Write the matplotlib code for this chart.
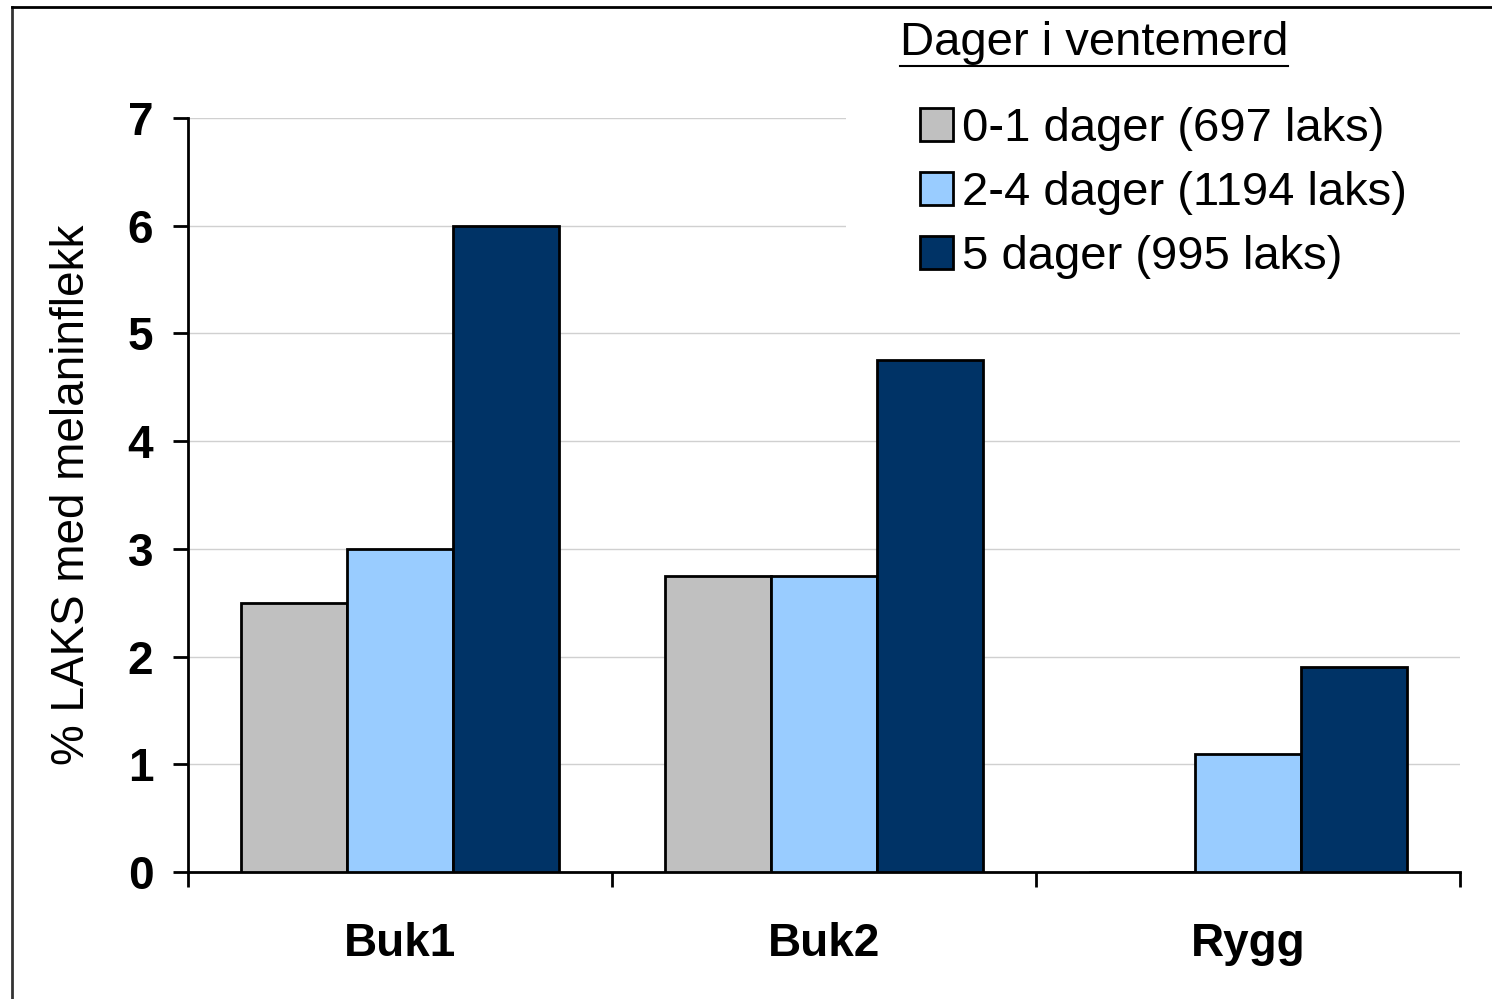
import numpy as np
import matplotlib.pyplot as plt
from matplotlib.patches import Patch, Rectangle
from matplotlib.lines import Line2D

# data
categories = ['Buk1', 'Buk2', 'Rygg']
series_labels = ['0-1 dager (697 laks)', '2-4 dager (1194 laks)', '5 dager (995 laks)']
values_01 = [2.5, 2.75, 0.0]
values_24 = [3.0, 2.75, 1.1]
values_5 = [6.0, 4.75, 1.9]
colors = ['#c0c0c0', '#99ccff', '#003366']

plt.rcParams['font.family'] = ['Liberation Sans', 'DejaVu Sans']

W, H = 1492, 999
fig = plt.figure(figsize=(W / 100, H / 100), dpi=100)
ax = fig.add_axes([188 / W, 1 - 872 / H, (1460 - 188) / W, (872 - 118) / H])

x = np.arange(len(categories)) + 0.5
width = 0.25
for i, vals in enumerate([values_01, values_24, values_5]):
    ax.bar(x + (i - 1) * width, vals, width, color=colors[i],
           edgecolor='black', linewidth=2, zorder=3)

ax.set_xlim(0, len(categories))
ax.set_ylim(0, 7)
ax.set_yticks(range(0, 8))
ax.yaxis.grid(True, color='#d0d0d0', linewidth=1, zorder=0)
ax.set_axisbelow(True)

# category boundaries as major ticks, names on minor ticks
ax.set_xticks(range(len(categories) + 1))
ax.set_xticklabels([])
ax.set_xticks(x, minor=True)
ax.set_xticklabels(categories, minor=True, fontsize=33, fontweight='bold')
ax.tick_params(axis='x', which='minor', length=0, pad=36)
ax.tick_params(axis='x', which='major', length=11, width=2, direction='out')
ax.tick_params(axis='y', length=11, width=2, labelsize=33, pad=14)
for lab in ax.get_yticklabels():
    lab.set_fontweight('bold')

for s in ['top', 'right']:
    ax.spines[s].set_visible(False)
for s in ['left', 'bottom']:
    ax.spines[s].set_linewidth(2)

ax.set_ylabel('% LAKS med melaninflekk', fontsize=33, labelpad=24)

# white box behind the legend hides the top gridlines
fig.add_artist(Rectangle((846 / W, 1 - 300 / H), (1462 - 846) / W, 220 / H,
                         facecolor='white', edgecolor='none',
                         transform=fig.transFigure, zorder=1))

handles = [Patch(facecolor=c, edgecolor='black', linewidth=2) for c in colors]
leg = fig.legend(handles, series_labels, loc='upper left',
                 bbox_to_anchor=(920 / W, 1 - 107 / H), borderaxespad=0,
                 fontsize=34, frameon=False,
                 handlelength=0.7, handleheight=0.7, handletextpad=0.2,
                 labelspacing=0.42, borderpad=0)
leg.set_zorder(2)

title = fig.text(900 / W, 1 - 43 / H, 'Dager i ventemerd', fontsize=34,
                 ha='left', va='center', zorder=3)

# underline the legend title
fig.canvas.draw()
bb = title.get_window_extent().transformed(fig.transFigure.inverted())
fig.add_artist(Line2D([bb.x0, bb.x1], [1 - 66 / H, 1 - 66 / H],
                      color='black', linewidth=1.5, transform=fig.transFigure,
                      zorder=3))

# outer frame (left and top edges)
fig.add_artist(Line2D([12 / W, 12 / W], [0, 1 - 7 / H], color='#333333',
                      linewidth=2, transform=fig.transFigure))
fig.add_artist(Line2D([12 / W, 1], [1 - 7 / H, 1 - 7 / H], color='black',
                      linewidth=2, transform=fig.transFigure))

fig.savefig('out.png', dpi=100)
